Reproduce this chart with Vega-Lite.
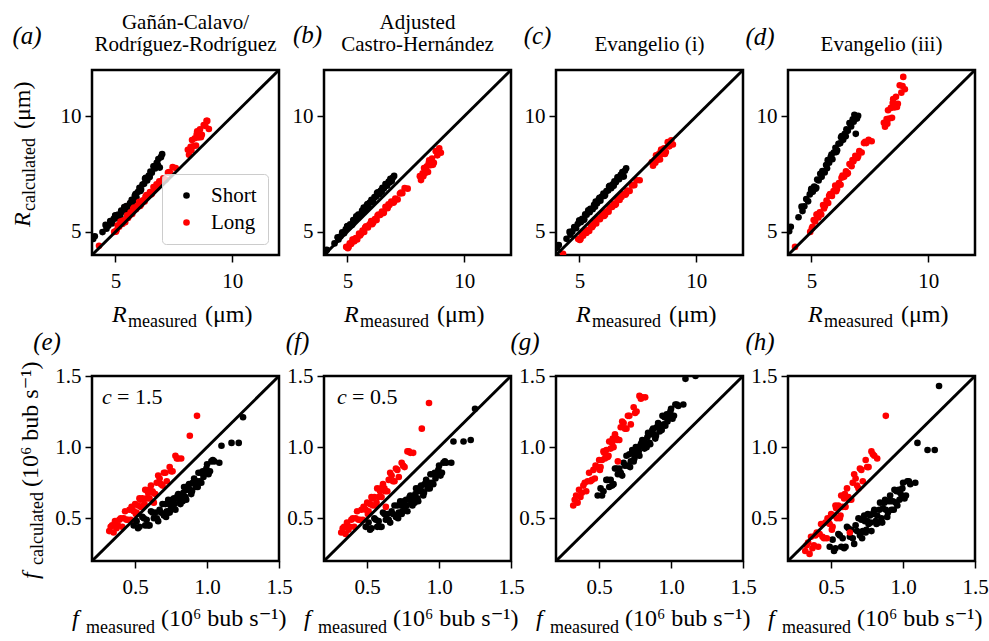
{
  "$schema": "https://vega.github.io/schema/vega-lite/v6.json",
  "background": "white",
  "padding": {"left": 9, "top": 10, "right": 0, "bottom": 0},
  "datasets": {
    "radius": [
      {"s":"Short","m":4.05,"a":4.69,"b":4.11,"c":4.31,"d":5.03},
      {"s":"Short","m":4.12,"a":4.81,"b":4.22,"c":4.43,"d":5.22},
      {"s":"Short","m":4.45,"a":4.99,"b":4.50,"c":4.70,"d":5.63},
      {"s":"Short","m":4.58,"a":5.30,"b":4.77,"c":5.00,"d":6.09},
      {"s":"Short","m":4.62,"a":5.14,"b":4.67,"c":4.88,"d":5.90},
      {"s":"Short","m":4.70,"a":5.26,"b":4.80,"c":5.02,"d":6.11},
      {"s":"Short","m":4.78,"a":5.47,"b":4.98,"c":5.21,"d":6.42},
      {"s":"Short","m":4.86,"a":5.36,"b":4.94,"c":5.16,"d":6.32},
      {"s":"Short","m":4.93,"a":5.56,"b":5.11,"c":5.34,"d":6.62},
      {"s":"Short","m":4.99,"a":5.69,"b":5.23,"c":5.47,"d":6.81},
      {"s":"Short","m":5.00,"a":5.72,"b":5.25,"c":5.50,"d":6.86},
      {"s":"Short","m":5.06,"a":5.59,"b":5.20,"c":5.42,"d":6.73},
      {"s":"Short","m":5.12,"a":5.75,"b":5.33,"c":5.57,"d":6.96},
      {"s":"Short","m":5.18,"a":5.65,"b":5.29,"c":5.51,"d":6.86},
      {"s":"Short","m":5.21,"a":5.68,"b":5.32,"c":5.55,"d":6.91},
      {"s":"Short","m":5.25,"a":5.92,"b":5.51,"c":5.76,"d":7.26},
      {"s":"Short","m":5.31,"a":5.87,"b":5.50,"c":5.74,"d":7.22},
      {"s":"Short","m":5.38,"a":6.07,"b":5.67,"c":5.93,"d":7.51},
      {"s":"Short","m":5.44,"a":5.94,"b":5.61,"c":5.85,"d":7.38},
      {"s":"Short","m":5.47,"a":6.12,"b":5.75,"c":6.00,"d":7.63},
      {"s":"Short","m":5.50,"a":6.09,"b":5.74,"c":5.99,"d":7.61},
      {"s":"Short","m":5.57,"a":6.04,"b":5.74,"c":5.98,"d":7.57},
      {"s":"Short","m":5.63,"a":6.25,"b":5.92,"c":6.17,"d":7.89},
      {"s":"Short","m":5.67,"a":6.13,"b":5.85,"c":6.09,"d":7.75},
      {"s":"Short","m":5.70,"a":6.39,"b":6.05,"c":6.31,"d":8.10},
      {"s":"Short","m":5.76,"a":6.28,"b":5.99,"c":6.24,"d":7.99},
      {"s":"Short","m":5.83,"a":6.56,"b":6.15,"c":6.41,"d":8.25},
      {"s":"Short","m":5.86,"a":6.64,"b":6.20,"c":6.47,"d":8.34},
      {"s":"Short","m":5.90,"a":6.49,"b":6.10,"c":6.35,"d":8.14},
      {"s":"Short","m":5.96,"a":6.72,"b":6.27,"c":6.53,"d":8.43},
      {"s":"Short","m":6.03,"a":6.90,"b":6.39,"c":6.66,"d":8.64},
      {"s":"Short","m":6.07,"a":6.77,"b":6.30,"c":6.55,"d":8.45},
      {"s":"Short","m":6.10,"a":6.83,"b":6.35,"c":6.60,"d":8.53},
      {"s":"Short","m":6.16,"a":7.05,"b":6.50,"c":6.77,"d":8.81},
      {"s":"Short","m":6.23,"a":7.08,"b":6.53,"c":6.79,"d":8.83},
      {"s":"Short","m":6.27,"a":7.30,"b":6.68,"c":6.96,"d":9.09},
      {"s":"Short","m":6.30,"a":7.34,"b":6.71,"c":6.99,"d":9.14},
      {"s":"Short","m":6.36,"a":7.22,"b":6.63,"c":6.89,"d":8.98},
      {"s":"Short","m":6.43,"a":7.44,"b":6.79,"c":7.06,"d":9.24},
      {"s":"Short","m":6.47,"a":7.37,"b":6.73,"c":6.99,"d":9.13},
      {"s":"Short","m":6.50,"a":7.61,"b":6.91,"c":7.19,"d":9.44},
      {"s":"Short","m":6.56,"a":7.56,"b":6.88,"c":7.15,"d":9.37},
      {"s":"Short","m":6.63,"a":7.84,"b":7.07,"c":7.36,"d":9.71},
      {"s":"Short","m":6.66,"a":7.84,"b":7.07,"c":7.36,"d":9.70},
      {"s":"Short","m":6.70,"a":7.74,"b":7.00,"c":7.28,"d":9.56},
      {"s":"Short","m":6.77,"a":7.99,"b":7.18,"c":7.47,"d":9.87},
      {"s":"Short","m":6.81,"a":7.91,"b":7.13,"c":7.40,"d":9.76},
      {"s":"Short","m":6.84,"a":8.15,"b":7.29,"c":7.59,"d":10.06},
      {"s":"Short","m":6.90,"a":7.78,"b":7.20,"c":7.39,"d":9.24},
      {"s":"Short","m":6.95,"a":8.23,"b":7.35,"c":7.64,"d":9.90},
      {"s":"Short","m":7.00,"a":8.36,"b":7.42,"c":7.75,"d":10.02},
      {"s":"Long","m":4.30,"a":4.40,"b":3.65,"c":4.05,"d":4.35},
      {"s":"Long","m":4.95,"a":5.00,"b":4.35,"c":4.69,"d":5.00},
      {"s":"Long","m":5.02,"a":5.01,"b":4.29,"c":4.65,"d":5.15},
      {"s":"Long","m":5.05,"a":5.07,"b":4.34,"c":4.69,"d":5.22},
      {"s":"Long","m":5.10,"a":5.28,"b":4.51,"c":4.86,"d":5.51},
      {"s":"Long","m":5.16,"a":5.22,"b":4.48,"c":4.83,"d":5.45},
      {"s":"Long","m":5.22,"a":5.45,"b":4.67,"c":5.00,"d":5.75},
      {"s":"Long","m":5.26,"a":5.45,"b":4.67,"c":5.02,"d":5.76},
      {"s":"Long","m":5.30,"a":5.34,"b":4.59,"c":4.95,"d":5.62},
      {"s":"Long","m":5.36,"a":5.50,"b":4.73,"c":5.08,"d":5.85},
      {"s":"Long","m":5.42,"a":5.42,"b":4.67,"c":5.04,"d":5.75},
      {"s":"Long","m":5.50,"a":5.72,"b":4.93,"c":5.27,"d":6.16},
      {"s":"Long","m":5.54,"a":5.60,"b":4.84,"c":5.20,"d":6.01},
      {"s":"Long","m":5.58,"a":5.69,"b":4.91,"c":5.27,"d":6.12},
      {"s":"Long","m":5.65,"a":5.85,"b":5.06,"c":5.40,"d":6.35},
      {"s":"Long","m":5.72,"a":5.77,"b":5.00,"c":5.36,"d":6.25},
      {"s":"Long","m":5.76,"a":6.00,"b":5.19,"c":5.53,"d":6.56},
      {"s":"Long","m":5.80,"a":6.05,"b":5.24,"c":5.58,"d":6.63},
      {"s":"Long","m":5.88,"a":5.98,"b":5.19,"c":5.55,"d":6.55},
      {"s":"Long","m":5.95,"a":6.14,"b":5.33,"c":5.68,"d":6.77},
      {"s":"Long","m":6.02,"a":6.30,"b":5.47,"c":5.81,"d":7.00},
      {"s":"Long","m":6.06,"a":6.12,"b":5.33,"c":5.69,"d":6.76},
      {"s":"Long","m":6.10,"a":6.18,"b":5.39,"c":5.74,"d":6.85},
      {"s":"Long","m":6.18,"a":6.36,"b":5.55,"c":5.89,"d":7.11},
      {"s":"Long","m":6.25,"a":6.31,"b":5.51,"c":5.87,"d":7.04},
      {"s":"Long","m":6.29,"a":6.53,"b":5.70,"c":6.04,"d":7.34},
      {"s":"Long","m":6.33,"a":6.59,"b":5.75,"c":6.09,"d":7.43},
      {"s":"Long","m":6.40,"a":6.55,"b":5.73,"c":6.08,"d":7.38},
      {"s":"Long","m":6.48,"a":6.72,"b":5.88,"c":6.22,"d":7.62},
      {"s":"Long","m":6.52,"a":6.62,"b":5.81,"c":6.16,"d":7.50},
      {"s":"Long","m":6.56,"a":6.65,"b":5.83,"c":6.19,"d":7.54},
      {"s":"Long","m":6.63,"a":6.94,"b":6.08,"c":6.41,"d":7.93},
      {"s":"Long","m":6.72,"a":6.86,"b":6.02,"c":6.38,"d":7.84},
      {"s":"Long","m":6.76,"a":7.06,"b":6.19,"c":6.53,"d":8.11},
      {"s":"Long","m":6.80,"a":7.01,"b":6.16,"c":6.51,"d":8.05},
      {"s":"Long","m":6.88,"a":7.19,"b":6.31,"c":6.65,"d":8.29},
      {"s":"Long","m":6.97,"a":7.10,"b":6.26,"c":6.61,"d":8.20},
      {"s":"Long","m":7.00,"a":7.15,"b":6.30,"c":6.66,"d":8.27},
      {"s":"Long","m":7.05,"a":7.32,"b":6.44,"c":6.79,"d":8.49},
      {"s":"Long","m":7.15,"a":7.25,"b":6.40,"c":6.77,"d":8.43},
      {"s":"Long","m":7.25,"a":7.56,"b":6.66,"c":7.01,"d":8.84},
      {"s":"Long","m":7.30,"a":7.59,"b":6.70,"c":7.04,"d":8.89},
      {"s":"Long","m":7.35,"a":7.54,"b":6.67,"c":7.02,"d":8.84},
      {"s":"Long","m":7.45,"a":7.80,"b":6.89,"c":7.23,"d":8.98},
      {"s":"Long","m":7.58,"a":7.76,"b":6.87,"c":7.23,"d":8.92},
      {"s":"Long","m":8.10,"a":8.55,"b":7.41,"c":8.02,"d":9.72},
      {"s":"Long","m":8.15,"a":8.33,"b":7.24,"c":7.86,"d":9.55},
      {"s":"Long","m":8.22,"a":8.68,"b":7.53,"c":8.11,"d":9.88},
      {"s":"Long","m":8.25,"a":8.53,"b":7.41,"c":7.99,"d":9.68},
      {"s":"Long","m":8.28,"a":8.97,"b":7.76,"c":8.31,"d":10.26},
      {"s":"Long","m":8.33,"a":8.70,"b":7.55,"c":8.11,"d":9.90},
      {"s":"Long","m":8.40,"a":9.05,"b":7.84,"c":8.36,"d":10.36},
      {"s":"Long","m":8.45,"a":8.73,"b":7.59,"c":8.13,"d":9.93},
      {"s":"Long","m":8.48,"a":9.22,"b":7.98,"c":8.47,"d":10.57},
      {"s":"Long","m":8.50,"a":9.35,"b":8.09,"c":8.56,"d":10.74},
      {"s":"Long","m":8.55,"a":9.08,"b":7.88,"c":8.37,"d":10.38},
      {"s":"Long","m":8.62,"a":9.43,"b":8.17,"c":8.61,"d":10.84},
      {"s":"Long","m":8.66,"a":9.09,"b":7.90,"c":8.37,"d":10.40},
      {"s":"Long","m":8.70,"a":9.20,"b":7.99,"c":8.45,"d":10.54},
      {"s":"Long","m":8.78,"a":9.62,"b":8.49,"c":8.88,"d":11.34},
      {"s":"Long","m":8.85,"a":9.58,"b":8.31,"c":8.70,"d":11.02},
      {"s":"Long","m":8.90,"a":9.80,"b":8.49,"c":8.86,"d":11.31},
      {"s":"Long","m":8.93,"a":9.80,"b":8.61,"c":8.96,"d":11.70},
      {"s":"Long","m":9.00,"a":9.45,"b":8.42,"c":8.78,"d":11.17}
    ],
    "frequency": [
      {"s":"Short","m":0.49,"e":0.45,"f":0.44,"g":0.66,"h":0.30},
      {"s":"Short","m":0.51,"e":0.48,"f":0.47,"g":0.71,"h":0.35},
      {"s":"Short","m":0.52,"e":0.43,"f":0.42,"g":0.66,"h":0.27},
      {"s":"Short","m":0.53,"e":0.44,"f":0.43,"g":0.69,"h":0.29},
      {"s":"Short","m":0.55,"e":0.51,"f":0.50,"g":0.77,"h":0.39},
      {"s":"Short","m":0.56,"e":0.50,"f":0.49,"g":0.77,"h":0.38},
      {"s":"Short","m":0.57,"e":0.45,"f":0.44,"g":0.72,"h":0.30},
      {"s":"Short","m":0.58,"e":0.49,"f":0.48,"g":0.77,"h":0.36},
      {"s":"Short","m":0.59,"e":0.45,"f":0.44,"g":0.73,"h":0.29},
      {"s":"Short","m":0.60,"e":0.45,"f":0.44,"g":0.74,"h":0.30},
      {"s":"Short","m":0.61,"e":0.55,"f":0.54,"g":0.85,"h":0.44},
      {"s":"Short","m":0.62,"e":0.54,"f":0.53,"g":0.85,"h":0.43},
      {"s":"Short","m":0.63,"e":0.50,"f":0.49,"g":0.81,"h":0.37},
      {"s":"Short","m":0.64,"e":0.54,"f":0.53,"g":0.85,"h":0.42},
      {"s":"Short","m":0.65,"e":0.50,"f":0.49,"g":0.82,"h":0.36},
      {"s":"Short","m":0.66,"e":0.48,"f":0.47,"g":0.80,"h":0.32},
      {"s":"Short","m":0.67,"e":0.56,"f":0.55,"g":0.89,"h":0.45},
      {"s":"Short","m":0.68,"e":0.54,"f":0.53,"g":0.87,"h":0.41},
      {"s":"Short","m":0.69,"e":0.60,"f":0.59,"g":0.94,"h":0.50},
      {"s":"Short","m":0.70,"e":0.52,"f":0.51,"g":0.87,"h":0.38},
      {"s":"Short","m":0.71,"e":0.60,"f":0.59,"g":0.95,"h":0.49},
      {"s":"Short","m":0.715,"e":0.51,"f":0.50,"g":0.86,"h":0.36},
      {"s":"Short","m":0.72,"e":0.55,"f":0.54,"g":0.90,"h":0.41},
      {"s":"Short","m":0.73,"e":0.63,"f":0.62,"g":0.98,"h":0.52},
      {"s":"Short","m":0.735,"e":0.60,"f":0.59,"g":0.96,"h":0.48},
      {"s":"Short","m":0.74,"e":0.54,"f":0.53,"g":0.90,"h":0.40},
      {"s":"Short","m":0.745,"e":0.56,"f":0.55,"g":0.92,"h":0.42},
      {"s":"Short","m":0.75,"e":0.60,"f":0.59,"g":0.96,"h":0.48},
      {"s":"Short","m":0.755,"e":0.63,"f":0.62,"g":1.00,"h":0.53},
      {"s":"Short","m":0.76,"e":0.59,"f":0.58,"g":0.95,"h":0.46},
      {"s":"Short","m":0.77,"e":0.64,"f":0.63,"g":1.00,"h":0.52},
      {"s":"Short","m":0.775,"e":0.60,"f":0.59,"g":0.97,"h":0.47},
      {"s":"Short","m":0.78,"e":0.56,"f":0.55,"g":0.94,"h":0.41},
      {"s":"Short","m":0.79,"e":0.64,"f":0.63,"g":1.02,"h":0.53},
      {"s":"Short","m":0.795,"e":0.66,"f":0.65,"g":1.03,"h":0.54},
      {"s":"Short","m":0.80,"e":0.67,"f":0.66,"g":1.05,"h":0.56},
      {"s":"Short","m":0.81,"e":0.62,"f":0.61,"g":1.00,"h":0.48},
      {"s":"Short","m":0.815,"e":0.60,"f":0.59,"g":0.99,"h":0.46},
      {"s":"Short","m":0.82,"e":0.65,"f":0.64,"g":1.03,"h":0.52},
      {"s":"Short","m":0.83,"e":0.62,"f":0.61,"g":1.00,"h":0.47},
      {"s":"Short","m":0.835,"e":0.68,"f":0.67,"g":1.07,"h":0.56},
      {"s":"Short","m":0.84,"e":0.72,"f":0.71,"g":1.10,"h":0.61},
      {"s":"Short","m":0.85,"e":0.65,"f":0.64,"g":1.03,"h":0.50},
      {"s":"Short","m":0.855,"e":0.63,"f":0.62,"g":1.02,"h":0.47},
      {"s":"Short","m":0.86,"e":0.70,"f":0.69,"g":1.09,"h":0.57},
      {"s":"Short","m":0.87,"e":0.73,"f":0.72,"g":1.12,"h":0.61},
      {"s":"Short","m":0.875,"e":0.74,"f":0.73,"g":1.13,"h":0.63},
      {"s":"Short","m":0.88,"e":0.70,"f":0.69,"g":1.09,"h":0.56},
      {"s":"Short","m":0.89,"e":0.67,"f":0.66,"g":1.06,"h":0.51},
      {"s":"Short","m":0.895,"e":0.69,"f":0.68,"g":1.08,"h":0.54},
      {"s":"Short","m":0.90,"e":0.75,"f":0.74,"g":1.14,"h":0.62},
      {"s":"Short","m":0.91,"e":0.78,"f":0.77,"g":1.17,"h":0.66},
      {"s":"Short","m":0.915,"e":0.75,"f":0.74,"g":1.15,"h":0.62},
      {"s":"Short","m":0.92,"e":0.72,"f":0.71,"g":1.11,"h":0.56},
      {"s":"Short","m":0.93,"e":0.76,"f":0.75,"g":1.15,"h":0.62},
      {"s":"Short","m":0.935,"e":0.72,"f":0.71,"g":1.12,"h":0.56},
      {"s":"Short","m":0.94,"e":0.82,"f":0.81,"g":1.22,"h":0.70},
      {"s":"Short","m":0.95,"e":0.76,"f":0.75,"g":1.16,"h":0.61},
      {"s":"Short","m":0.955,"e":0.82,"f":0.81,"g":1.21,"h":0.69},
      {"s":"Short","m":0.96,"e":0.75,"f":0.74,"g":1.15,"h":0.59},
      {"s":"Short","m":0.97,"e":0.83,"f":0.82,"g":1.23,"h":0.70},
      {"s":"Short","m":0.975,"e":0.79,"f":0.78,"g":1.18,"h":0.63},
      {"s":"Short","m":0.98,"e":0.82,"f":0.81,"g":1.22,"h":0.68},
      {"s":"Short","m":0.99,"e":0.82,"f":0.81,"g":1.21,"h":0.66},
      {"s":"Short","m":0.995,"e":0.85,"f":0.84,"g":1.25,"h":0.71},
      {"s":"Short","m":1.00,"e":0.88,"f":0.87,"g":1.27,"h":0.75},
      {"s":"Short","m":1.01,"e":0.81,"f":0.80,"g":1.20,"h":0.64},
      {"s":"Short","m":1.02,"e":0.83,"f":0.82,"g":1.22,"h":0.66},
      {"s":"Short","m":1.03,"e":0.90,"f":0.89,"g":1.30,"h":0.76},
      {"s":"Short","m":1.04,"e":0.91,"f":0.90,"g":1.30,"h":0.76},
      {"s":"Short","m":1.05,"e":0.90,"f":0.89,"g":1.29,"h":0.74},
      {"s":"Short","m":1.085,"e":0.89,"f":0.89,"g":1.30,"h":0.75},
      {"s":"Short","m":1.10,"e":1.01,"f":1.04,"g":1.48,"h":1.03},
      {"s":"Short","m":1.17,"e":1.03,"f":1.04,"g":1.50,"h":0.98},
      {"s":"Short","m":1.22,"e":1.03,"f":1.05,"g":1.53,"h":0.98},
      {"s":"Short","m":1.25,"e":1.21,"f":1.27,"g":1.62,"h":1.43},
      {"s":"Long","m":0.32,"e":0.41,"f":0.40,"g":0.59,"h":0.27},
      {"s":"Long","m":0.33,"e":0.44,"f":0.43,"g":0.63,"h":0.31},
      {"s":"Long","m":0.34,"e":0.45,"f":0.44,"g":0.66,"h":0.33},
      {"s":"Long","m":0.35,"e":0.40,"f":0.39,"g":0.61,"h":0.25},
      {"s":"Long","m":0.36,"e":0.48,"f":0.47,"g":0.70,"h":0.37},
      {"s":"Long","m":0.37,"e":0.43,"f":0.42,"g":0.65,"h":0.29},
      {"s":"Long","m":0.38,"e":0.45,"f":0.44,"g":0.68,"h":0.31},
      {"s":"Long","m":0.39,"e":0.49,"f":0.49,"g":0.73,"h":0.38},
      {"s":"Long","m":0.40,"e":0.50,"f":0.50,"g":0.75,"h":0.40},
      {"s":"Long","m":0.41,"e":0.44,"f":0.44,"g":0.69,"h":0.30},
      {"s":"Long","m":0.42,"e":0.50,"f":0.50,"g":0.76,"h":0.39},
      {"s":"Long","m":0.43,"e":0.55,"f":0.55,"g":0.82,"h":0.46},
      {"s":"Long","m":0.44,"e":0.49,"f":0.49,"g":0.76,"h":0.37},
      {"s":"Long","m":0.45,"e":0.49,"f":0.49,"g":0.77,"h":0.36},
      {"s":"Long","m":0.46,"e":0.56,"f":0.56,"g":0.84,"h":0.47},
      {"s":"Long","m":0.47,"e":0.49,"f":0.49,"g":0.78,"h":0.36},
      {"s":"Long","m":0.475,"e":0.58,"f":0.58,"g":0.87,"h":0.50},
      {"s":"Long","m":0.48,"e":0.56,"f":0.57,"g":0.86,"h":0.48},
      {"s":"Long","m":0.49,"e":0.55,"f":0.56,"g":0.86,"h":0.46},
      {"s":"Long","m":0.50,"e":0.60,"f":0.61,"g":0.91,"h":0.53},
      {"s":"Long","m":0.505,"e":0.53,"f":0.53,"g":0.84,"h":0.42},
      {"s":"Long","m":0.51,"e":0.54,"f":0.55,"g":0.86,"h":0.44},
      {"s":"Long","m":0.52,"e":0.59,"f":0.60,"g":0.91,"h":0.52},
      {"s":"Long","m":0.53,"e":0.64,"f":0.65,"g":0.97,"h":0.59},
      {"s":"Long","m":0.535,"e":0.63,"f":0.64,"g":0.96,"h":0.57},
      {"s":"Long","m":0.54,"e":0.58,"f":0.59,"g":0.92,"h":0.50},
      {"s":"Long","m":0.55,"e":0.64,"f":0.65,"g":0.98,"h":0.59},
      {"s":"Long","m":0.56,"e":0.59,"f":0.59,"g":0.93,"h":0.50},
      {"s":"Long","m":0.565,"e":0.60,"f":0.61,"g":0.94,"h":0.52},
      {"s":"Long","m":0.57,"e":0.70,"f":0.71,"g":1.04,"h":0.66},
      {"s":"Long","m":0.58,"e":0.64,"f":0.65,"g":0.99,"h":0.58},
      {"s":"Long","m":0.59,"e":0.68,"f":0.69,"g":1.03,"h":0.64},
      {"s":"Long","m":0.595,"e":0.70,"f":0.71,"g":1.06,"h":0.67},
      {"s":"Long","m":0.60,"e":0.64,"f":0.65,"g":1.00,"h":0.58},
      {"s":"Long","m":0.61,"e":0.73,"f":0.74,"g":1.09,"h":0.71},
      {"s":"Long","m":0.62,"e":0.69,"f":0.71,"g":1.06,"h":0.65},
      {"s":"Long","m":0.625,"e":0.68,"f":0.69,"g":1.05,"h":0.63},
      {"s":"Long","m":0.63,"e":0.61,"f":0.58,"g":0.90,"h":0.40},
      {"s":"Long","m":0.64,"e":0.67,"f":0.69,"g":1.05,"h":0.63},
      {"s":"Long","m":0.65,"e":0.75,"f":0.77,"g":1.14,"h":0.75},
      {"s":"Long","m":0.66,"e":0.80,"f":0.82,"g":1.18,"h":0.81},
      {"s":"Long","m":0.67,"e":0.78,"f":0.80,"g":1.17,"h":0.78},
      {"s":"Long","m":0.68,"e":0.74,"f":0.76,"g":1.13,"h":0.73},
      {"s":"Long","m":0.69,"e":0.73,"f":0.76,"g":1.13,"h":0.71},
      {"s":"Long","m":0.70,"e":0.82,"f":0.85,"g":1.22,"h":0.85},
      {"s":"Long","m":0.71,"e":0.82,"f":0.84,"g":1.22,"h":0.84},
      {"s":"Long","m":0.72,"e":0.76,"f":0.79,"g":1.16,"h":0.76},
      {"s":"Long","m":0.74,"e":0.86,"f":0.89,"g":1.28,"h":0.91},
      {"s":"Long","m":0.75,"e":0.83,"f":0.87,"g":1.24,"h":0.86},
      {"s":"Long","m":0.76,"e":0.83,"f":0.86,"g":1.25,"h":0.86},
      {"s":"Long","m":0.78,"e":0.94,"f":0.97,"g":1.36,"h":0.97},
      {"s":"Long","m":0.79,"e":0.92,"f":0.97,"g":1.34,"h":0.95},
      {"s":"Long","m":0.80,"e":0.92,"f":0.96,"g":1.35,"h":0.94},
      {"s":"Long","m":0.82,"e":0.92,"f":0.96,"g":1.35,"h":0.92},
      {"s":"Long","m":0.88,"e":1.08,"f":1.13,"g":1.68,"h":1.22},
      {"s":"Long","m":0.93,"e":1.22,"f":1.31,"g":1.80,"h":1.60}
    ]
  },
  "columns": 4,
  "spacing": {"row": 121, "column": 45},
  "bounds": "flush",
  "resolve": {"scale": {"color": "independent"}},
  "concat": [
    {
      "width": 187, "height": 185,
      "layer": [
        {
          "data": {"name": "radius"},
          "mark": {"type": "point", "filled": true, "size": 44, "opacity": 1, "clip": true},
          "encoding": {
            "x": {"field": "m", "type": "quantitative", "scale": {"domain": [4, 12], "nice": false, "zero": false}, "axis": {"values": [5, 10], "title": null}},
            "y": {"field": "a", "type": "quantitative", "scale": {"domain": [4, 12], "nice": false, "zero": false}, "axis": {"values": [5, 10], "title": null}},
            "color": {"field": "s", "type": "nominal", "scale": {"domain": ["Short", "Long"], "range": ["#000000", "#ff0000"]},
              "legend": {"orient": "bottom-right", "offset": 11, "title": null, "labelFont": "Liberation Serif, DejaVu Serif, serif", "labelFontSize": 21, "labelColor": "#000000", "symbolType": "circle", "symbolSize": 44, "symbolStrokeWidth": 0, "fillColor": "rgba(255,255,255,0.8)", "strokeColor": "#cccccc", "cornerRadius": 4, "padding": 11, "rowPadding": 5, "symbolOffset": 3, "labelOffset": 14}}
          }
        },
        {
          "data": {"values": [{}]},
          "mark": {"type": "rule", "strokeWidth": 3, "color": "#000000"},
          "encoding": {"x": {"datum": 4, "axis": {"title": null}}, "y": {"datum": 4, "axis": {"title": null}}, "x2": {"datum": 12}, "y2": {"datum": 12}}
        },
        {
          "data": {"values": [{}]},
          "encoding": {"x": {"datum": 4, "axis": {"title": null}}, "y": {"datum": 12, "axis": {"title": null}}},
          "layer": [
            {"mark": {"type": "text", "text": "(a)", "fontSize": 25, "fontStyle": "italic", "align": "center", "baseline": "middle", "dx": -65, "dy": -34}}
          ]
        },
        {
          "data": {"values": [{}]},
          "encoding": {"x": {"datum": 8, "axis": {"title": null}}, "y": {"datum": 12, "axis": {"title": null}}},
          "layer": [
            {"mark": {"type": "text", "text": ["Gañán-Calavo/", "Rodríguez-Rodríguez"], "fontSize": 21, "lineHeight": 22, "align": "center", "baseline": "alphabetic", "dy": -41}}
          ]
        },
        {
          "data": {"values": [{}]},
          "encoding": {"x": {"datum": 8, "axis": {"title": null}}, "y": {"datum": 4, "axis": {"title": null}}},
          "layer": [
            {"mark": {"type": "text", "text": "R", "fontSize": 24, "fontStyle": "italic", "align": "left", "baseline": "alphabetic", "dx": -73.5, "dy": 67}},
            {"mark": {"type": "text", "text": "measured", "fontSize": 18, "align": "left", "baseline": "alphabetic", "dx": -57.5, "dy": 72}},
            {"mark": {"type": "text", "text": "(μm)", "fontSize": 24, "align": "left", "baseline": "alphabetic", "dx": 19.5, "dy": 67}}
          ]
        },
        {
          "data": {"values": [{}]},
          "encoding": {"x": {"datum": 4, "axis": {"title": null}}, "y": {"datum": 8, "axis": {"title": null}}},
          "layer": [
            {"mark": {"type": "text", "text": "R", "angle": 270, "fontSize": 24, "fontStyle": "italic", "align": "left", "baseline": "alphabetic", "dx": -64.5, "dy": -62}},
            {"mark": {"type": "text", "text": "calculated", "angle": 270, "fontSize": 18, "align": "left", "baseline": "alphabetic", "dx": -48.5, "dy": -57}},
            {"mark": {"type": "text", "text": "(μm)", "angle": 270, "fontSize": 24, "align": "left", "baseline": "alphabetic", "dx": 33.5, "dy": -62}}
          ]
        }
      ]
    },
    {
      "width": 187, "height": 185,
      "layer": [
        {
          "data": {"name": "radius"},
          "mark": {"type": "point", "filled": true, "size": 44, "opacity": 1, "clip": true},
          "encoding": {
            "x": {"field": "m", "type": "quantitative", "scale": {"domain": [4, 12], "nice": false, "zero": false}, "axis": {"values": [5, 10], "title": null}},
            "y": {"field": "b", "type": "quantitative", "scale": {"domain": [4, 12], "nice": false, "zero": false}, "axis": {"values": [5, 10], "title": null}},
            "color": {"field": "s", "type": "nominal", "scale": {"domain": ["Short", "Long"], "range": ["#000000", "#ff0000"]}, "legend": null}
          }
        },
        {
          "data": {"values": [{}]},
          "mark": {"type": "rule", "strokeWidth": 3, "color": "#000000"},
          "encoding": {"x": {"datum": 4, "axis": {"title": null}}, "y": {"datum": 4, "axis": {"title": null}}, "x2": {"datum": 12}, "y2": {"datum": 12}}
        },
        {
          "data": {"values": [{}]},
          "encoding": {"x": {"datum": 4, "axis": {"title": null}}, "y": {"datum": 12, "axis": {"title": null}}},
          "layer": [
            {"mark": {"type": "text", "text": "(b)", "fontSize": 25, "fontStyle": "italic", "align": "center", "baseline": "middle", "dx": -16.5, "dy": -35}}
          ]
        },
        {
          "data": {"values": [{}]},
          "encoding": {"x": {"datum": 8, "axis": {"title": null}}, "y": {"datum": 12, "axis": {"title": null}}},
          "layer": [
            {"mark": {"type": "text", "text": ["Adjusted", "Castro-Hernández"], "fontSize": 21, "lineHeight": 22, "align": "center", "baseline": "alphabetic", "dy": -41}}
          ]
        },
        {
          "data": {"values": [{}]},
          "encoding": {"x": {"datum": 8, "axis": {"title": null}}, "y": {"datum": 4, "axis": {"title": null}}},
          "layer": [
            {"mark": {"type": "text", "text": "R", "fontSize": 24, "fontStyle": "italic", "align": "left", "baseline": "alphabetic", "dx": -73.5, "dy": 67}},
            {"mark": {"type": "text", "text": "measured", "fontSize": 18, "align": "left", "baseline": "alphabetic", "dx": -57.5, "dy": 72}},
            {"mark": {"type": "text", "text": "(μm)", "fontSize": 24, "align": "left", "baseline": "alphabetic", "dx": 19.5, "dy": 67}}
          ]
        }
      ]
    },
    {
      "width": 187, "height": 185,
      "layer": [
        {
          "data": {"name": "radius"},
          "mark": {"type": "point", "filled": true, "size": 44, "opacity": 1, "clip": true},
          "encoding": {
            "x": {"field": "m", "type": "quantitative", "scale": {"domain": [4, 12], "nice": false, "zero": false}, "axis": {"values": [5, 10], "title": null}},
            "y": {"field": "c", "type": "quantitative", "scale": {"domain": [4, 12], "nice": false, "zero": false}, "axis": {"values": [5, 10], "title": null}},
            "color": {"field": "s", "type": "nominal", "scale": {"domain": ["Short", "Long"], "range": ["#000000", "#ff0000"]}, "legend": null}
          }
        },
        {
          "data": {"values": [{}]},
          "mark": {"type": "rule", "strokeWidth": 3, "color": "#000000"},
          "encoding": {"x": {"datum": 4, "axis": {"title": null}}, "y": {"datum": 4, "axis": {"title": null}}, "x2": {"datum": 12}, "y2": {"datum": 12}}
        },
        {
          "data": {"values": [{}]},
          "encoding": {"x": {"datum": 4, "axis": {"title": null}}, "y": {"datum": 12, "axis": {"title": null}}},
          "layer": [
            {"mark": {"type": "text", "text": "(c)", "fontSize": 25, "fontStyle": "italic", "align": "center", "baseline": "middle", "dx": -18.5, "dy": -34}}
          ]
        },
        {
          "data": {"values": [{}]},
          "encoding": {"x": {"datum": 8, "axis": {"title": null}}, "y": {"datum": 12, "axis": {"title": null}}},
          "layer": [
            {"mark": {"type": "text", "text": "Evangelio (i)", "fontSize": 21, "align": "center", "baseline": "alphabetic", "dy": -19}}
          ]
        },
        {
          "data": {"values": [{}]},
          "encoding": {"x": {"datum": 8, "axis": {"title": null}}, "y": {"datum": 4, "axis": {"title": null}}},
          "layer": [
            {"mark": {"type": "text", "text": "R", "fontSize": 24, "fontStyle": "italic", "align": "left", "baseline": "alphabetic", "dx": -73.5, "dy": 67}},
            {"mark": {"type": "text", "text": "measured", "fontSize": 18, "align": "left", "baseline": "alphabetic", "dx": -57.5, "dy": 72}},
            {"mark": {"type": "text", "text": "(μm)", "fontSize": 24, "align": "left", "baseline": "alphabetic", "dx": 19.5, "dy": 67}}
          ]
        }
      ]
    },
    {
      "width": 187, "height": 185,
      "layer": [
        {
          "data": {"name": "radius"},
          "mark": {"type": "point", "filled": true, "size": 44, "opacity": 1, "clip": true},
          "encoding": {
            "x": {"field": "m", "type": "quantitative", "scale": {"domain": [4, 12], "nice": false, "zero": false}, "axis": {"values": [5, 10], "title": null}},
            "y": {"field": "d", "type": "quantitative", "scale": {"domain": [4, 12], "nice": false, "zero": false}, "axis": {"values": [5, 10], "title": null}},
            "color": {"field": "s", "type": "nominal", "scale": {"domain": ["Short", "Long"], "range": ["#000000", "#ff0000"]}, "legend": null}
          }
        },
        {
          "data": {"values": [{}]},
          "mark": {"type": "rule", "strokeWidth": 3, "color": "#000000"},
          "encoding": {"x": {"datum": 4, "axis": {"title": null}}, "y": {"datum": 4, "axis": {"title": null}}, "x2": {"datum": 12}, "y2": {"datum": 12}}
        },
        {
          "data": {"values": [{}]},
          "encoding": {"x": {"datum": 4, "axis": {"title": null}}, "y": {"datum": 12, "axis": {"title": null}}},
          "layer": [
            {"mark": {"type": "text", "text": "(d)", "fontSize": 25, "fontStyle": "italic", "align": "center", "baseline": "middle", "dx": -28, "dy": -33}}
          ]
        },
        {
          "data": {"values": [{}]},
          "encoding": {"x": {"datum": 8, "axis": {"title": null}}, "y": {"datum": 12, "axis": {"title": null}}},
          "layer": [
            {"mark": {"type": "text", "text": "Evangelio (iii)", "fontSize": 21, "align": "center", "baseline": "alphabetic", "dy": -19}}
          ]
        },
        {
          "data": {"values": [{}]},
          "encoding": {"x": {"datum": 8, "axis": {"title": null}}, "y": {"datum": 4, "axis": {"title": null}}},
          "layer": [
            {"mark": {"type": "text", "text": "R", "fontSize": 24, "fontStyle": "italic", "align": "left", "baseline": "alphabetic", "dx": -73.5, "dy": 67}},
            {"mark": {"type": "text", "text": "measured", "fontSize": 18, "align": "left", "baseline": "alphabetic", "dx": -57.5, "dy": 72}},
            {"mark": {"type": "text", "text": "(μm)", "fontSize": 24, "align": "left", "baseline": "alphabetic", "dx": 19.5, "dy": 67}}
          ]
        }
      ]
    },
    {
      "width": 187, "height": 185,
      "layer": [
        {
          "data": {"name": "frequency"},
          "mark": {"type": "point", "filled": true, "size": 44, "opacity": 1, "clip": true},
          "encoding": {
            "x": {"field": "m", "type": "quantitative", "scale": {"domain": [0.2, 1.5], "nice": false, "zero": false}, "axis": {"values": [0.5, 1.0, 1.5], "format": ".1f", "title": null}},
            "y": {"field": "e", "type": "quantitative", "scale": {"domain": [0.2, 1.5], "nice": false, "zero": false}, "axis": {"values": [0.5, 1.0, 1.5], "format": ".1f", "title": null}},
            "color": {"field": "s", "type": "nominal", "scale": {"domain": ["Short", "Long"], "range": ["#000000", "#ff0000"]}, "legend": null}
          }
        },
        {
          "data": {"values": [{}]},
          "mark": {"type": "rule", "strokeWidth": 3, "color": "#000000"},
          "encoding": {"x": {"datum": 0.2, "axis": {"title": null}}, "y": {"datum": 0.2, "axis": {"title": null}}, "x2": {"datum": 1.5}, "y2": {"datum": 1.5}}
        },
        {
          "data": {"values": [{}]},
          "encoding": {"x": {"datum": 0.2, "axis": {"title": null}}, "y": {"datum": 1.5, "axis": {"title": null}}},
          "layer": [
            {"mark": {"type": "text", "text": "(e)", "fontSize": 25, "fontStyle": "italic", "align": "center", "baseline": "middle", "dx": -45, "dy": -34}},
            {"mark": {"type": "text", "text": "c", "fontSize": 22, "fontStyle": "italic", "align": "left", "baseline": "alphabetic", "dx": 10, "dy": 28}},
            {"mark": {"type": "text", "text": "= 1.5", "fontSize": 22, "align": "left", "baseline": "alphabetic", "dx": 25, "dy": 28}}
          ]
        },
        {
          "data": {"values": [{}]},
          "encoding": {"x": {"datum": 0.85, "axis": {"title": null}}, "y": {"datum": 0.2, "axis": {"title": null}}},
          "layer": [
            {"mark": {"type": "text", "text": "f", "fontSize": 24, "fontStyle": "italic", "align": "left", "baseline": "alphabetic", "dx": -113.5, "dy": 65}},
            {"mark": {"type": "text", "text": "measured", "fontSize": 18, "align": "left", "baseline": "alphabetic", "dx": -99.5, "dy": 72}},
            {"mark": {"type": "text", "text": "(10⁶ bub s⁻¹)", "fontSize": 24, "align": "left", "baseline": "alphabetic", "dx": -24.5, "dy": 65}}
          ]
        },
        {
          "data": {"values": [{}]},
          "encoding": {"x": {"datum": 0.2, "axis": {"title": null}}, "y": {"datum": 0.85, "axis": {"title": null}}},
          "layer": [
            {"mark": {"type": "text", "text": "f", "angle": 270, "fontSize": 24, "fontStyle": "italic", "align": "left", "baseline": "alphabetic", "dx": -110.5, "dy": -54}},
            {"mark": {"type": "text", "text": "calculated", "angle": 270, "fontSize": 18, "align": "left", "baseline": "alphabetic", "dx": -96.5, "dy": -49}},
            {"mark": {"type": "text", "text": "(10⁶ bub s⁻¹)", "angle": 270, "fontSize": 24, "align": "left", "baseline": "alphabetic", "dx": -18.5, "dy": -54}}
          ]
        }
      ]
    },
    {
      "width": 187, "height": 185,
      "layer": [
        {
          "data": {"name": "frequency"},
          "mark": {"type": "point", "filled": true, "size": 44, "opacity": 1, "clip": true},
          "encoding": {
            "x": {"field": "m", "type": "quantitative", "scale": {"domain": [0.2, 1.5], "nice": false, "zero": false}, "axis": {"values": [0.5, 1.0, 1.5], "format": ".1f", "title": null}},
            "y": {"field": "f", "type": "quantitative", "scale": {"domain": [0.2, 1.5], "nice": false, "zero": false}, "axis": {"values": [0.5, 1.0, 1.5], "format": ".1f", "title": null}},
            "color": {"field": "s", "type": "nominal", "scale": {"domain": ["Short", "Long"], "range": ["#000000", "#ff0000"]}, "legend": null}
          }
        },
        {
          "data": {"values": [{}]},
          "mark": {"type": "rule", "strokeWidth": 3, "color": "#000000"},
          "encoding": {"x": {"datum": 0.2, "axis": {"title": null}}, "y": {"datum": 0.2, "axis": {"title": null}}, "x2": {"datum": 1.5}, "y2": {"datum": 1.5}}
        },
        {
          "data": {"values": [{}]},
          "encoding": {"x": {"datum": 0.2, "axis": {"title": null}}, "y": {"datum": 1.5, "axis": {"title": null}}},
          "layer": [
            {"mark": {"type": "text", "text": "(f)", "fontSize": 25, "fontStyle": "italic", "align": "center", "baseline": "middle", "dx": -26.5, "dy": -34}},
            {"mark": {"type": "text", "text": "c", "fontSize": 22, "fontStyle": "italic", "align": "left", "baseline": "alphabetic", "dx": 13, "dy": 28}},
            {"mark": {"type": "text", "text": "= 0.5", "fontSize": 22, "align": "left", "baseline": "alphabetic", "dx": 28, "dy": 28}}
          ]
        },
        {
          "data": {"values": [{}]},
          "encoding": {"x": {"datum": 0.85, "axis": {"title": null}}, "y": {"datum": 0.2, "axis": {"title": null}}},
          "layer": [
            {"mark": {"type": "text", "text": "f", "fontSize": 24, "fontStyle": "italic", "align": "left", "baseline": "alphabetic", "dx": -113.5, "dy": 65}},
            {"mark": {"type": "text", "text": "measured", "fontSize": 18, "align": "left", "baseline": "alphabetic", "dx": -99.5, "dy": 72}},
            {"mark": {"type": "text", "text": "(10⁶ bub s⁻¹)", "fontSize": 24, "align": "left", "baseline": "alphabetic", "dx": -24.5, "dy": 65}}
          ]
        }
      ]
    },
    {
      "width": 187, "height": 185,
      "layer": [
        {
          "data": {"name": "frequency"},
          "mark": {"type": "point", "filled": true, "size": 44, "opacity": 1, "clip": true},
          "encoding": {
            "x": {"field": "m", "type": "quantitative", "scale": {"domain": [0.2, 1.5], "nice": false, "zero": false}, "axis": {"values": [0.5, 1.0, 1.5], "format": ".1f", "title": null}},
            "y": {"field": "g", "type": "quantitative", "scale": {"domain": [0.2, 1.5], "nice": false, "zero": false}, "axis": {"values": [0.5, 1.0, 1.5], "format": ".1f", "title": null}},
            "color": {"field": "s", "type": "nominal", "scale": {"domain": ["Short", "Long"], "range": ["#000000", "#ff0000"]}, "legend": null}
          }
        },
        {
          "data": {"values": [{}]},
          "mark": {"type": "rule", "strokeWidth": 3, "color": "#000000"},
          "encoding": {"x": {"datum": 0.2, "axis": {"title": null}}, "y": {"datum": 0.2, "axis": {"title": null}}, "x2": {"datum": 1.5}, "y2": {"datum": 1.5}}
        },
        {
          "data": {"values": [{}]},
          "encoding": {"x": {"datum": 0.2, "axis": {"title": null}}, "y": {"datum": 1.5, "axis": {"title": null}}},
          "layer": [
            {"mark": {"type": "text", "text": "(g)", "fontSize": 25, "fontStyle": "italic", "align": "center", "baseline": "middle", "dx": -31, "dy": -34}}
          ]
        },
        {
          "data": {"values": [{}]},
          "encoding": {"x": {"datum": 0.85, "axis": {"title": null}}, "y": {"datum": 0.2, "axis": {"title": null}}},
          "layer": [
            {"mark": {"type": "text", "text": "f", "fontSize": 24, "fontStyle": "italic", "align": "left", "baseline": "alphabetic", "dx": -113.5, "dy": 65}},
            {"mark": {"type": "text", "text": "measured", "fontSize": 18, "align": "left", "baseline": "alphabetic", "dx": -99.5, "dy": 72}},
            {"mark": {"type": "text", "text": "(10⁶ bub s⁻¹)", "fontSize": 24, "align": "left", "baseline": "alphabetic", "dx": -24.5, "dy": 65}}
          ]
        }
      ]
    },
    {
      "width": 187, "height": 185,
      "layer": [
        {
          "data": {"name": "frequency"},
          "mark": {"type": "point", "filled": true, "size": 44, "opacity": 1, "clip": true},
          "encoding": {
            "x": {"field": "m", "type": "quantitative", "scale": {"domain": [0.2, 1.5], "nice": false, "zero": false}, "axis": {"values": [0.5, 1.0, 1.5], "format": ".1f", "title": null}},
            "y": {"field": "h", "type": "quantitative", "scale": {"domain": [0.2, 1.5], "nice": false, "zero": false}, "axis": {"values": [0.5, 1.0, 1.5], "format": ".1f", "title": null}},
            "color": {"field": "s", "type": "nominal", "scale": {"domain": ["Short", "Long"], "range": ["#000000", "#ff0000"]}, "legend": null}
          }
        },
        {
          "data": {"values": [{}]},
          "mark": {"type": "rule", "strokeWidth": 3, "color": "#000000"},
          "encoding": {"x": {"datum": 0.2, "axis": {"title": null}}, "y": {"datum": 0.2, "axis": {"title": null}}, "x2": {"datum": 1.5}, "y2": {"datum": 1.5}}
        },
        {
          "data": {"values": [{}]},
          "encoding": {"x": {"datum": 0.2, "axis": {"title": null}}, "y": {"datum": 1.5, "axis": {"title": null}}},
          "layer": [
            {"mark": {"type": "text", "text": "(h)", "fontSize": 25, "fontStyle": "italic", "align": "center", "baseline": "middle", "dx": -28, "dy": -34}}
          ]
        },
        {
          "data": {"values": [{}]},
          "encoding": {"x": {"datum": 0.85, "axis": {"title": null}}, "y": {"datum": 0.2, "axis": {"title": null}}},
          "layer": [
            {"mark": {"type": "text", "text": "f", "fontSize": 24, "fontStyle": "italic", "align": "left", "baseline": "alphabetic", "dx": -113.5, "dy": 65}},
            {"mark": {"type": "text", "text": "measured", "fontSize": 18, "align": "left", "baseline": "alphabetic", "dx": -99.5, "dy": 72}},
            {"mark": {"type": "text", "text": "(10⁶ bub s⁻¹)", "fontSize": 24, "align": "left", "baseline": "alphabetic", "dx": -24.5, "dy": 65}}
          ]
        }
      ]
    }
  ],
  "config": {
    "view": {"stroke": "#000000", "strokeWidth": 2.5},
    "axis": {"domain": false, "grid": false, "tickColor": "#000000", "tickWidth": 1.5, "tickSize": 7, "labelFont": "Liberation Serif, DejaVu Serif, serif", "labelFontSize": 21, "labelColor": "#000000", "labelFlush": false, "labelOverlap": false},
    "axisX": {"labelPadding": 8},
    "axisY": {"labelPadding": 4},
    "text": {"font": "Liberation Serif, DejaVu Serif, serif", "color": "#000000"}
  }
}
